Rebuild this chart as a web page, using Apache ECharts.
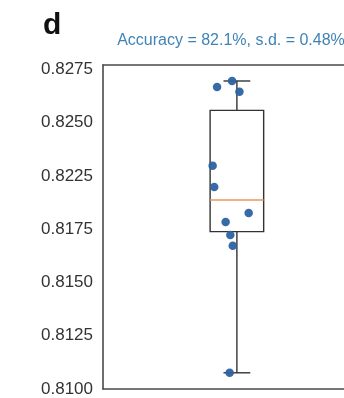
<!DOCTYPE html>
<html>
<head>
<meta charset="utf-8">
<script src="https://cdn.jsdelivr.net/npm/echarts@6/dist/echarts.min.js"></script>
<style>
  html, body { margin: 0; padding: 0; background: #fff; }
  #chart { width: 344px; height: 398px; }
</style>
</head>
<body>
<div id="chart"></div>
<script>
// Per-run accuracy of the ten repeated runs
const runAccuracy = [0.82695, 0.82667, 0.82644, 0.82297, 0.82198, 0.82076, 0.82034, 0.81973, 0.81922, 0.81326];
// Horizontal jitter of each run's dot around the box centre (box sits at x = 1)
const runJitter = [0.964, 0.852, 1.019, 0.819, 0.831, 1.088, 0.916, 0.951, 0.969, 0.946];
// Y-axis tick labels, bottom to top
const yTickLabels = ['0.8100', '0.8125', '0.8150', '0.8175', '0.8225', '0.8250', '0.8275'];
const panelLetter = 'd';
const summaryText = 'Accuracy = 82.1%, s.d. = 0.48%';

const yMin = 0.8125, yStep = 0.0025, yMax = 0.8277;
const boxCenter = 1, boxWidth = 0.4;

// Quartiles with linear interpolation, whiskers at the furthest run within 1.5 IQR
function quantile(asc, p) {
  const h = (asc.length - 1) * p;
  const lo = Math.floor(h), hi = Math.ceil(h);
  return asc[lo] + (h - lo) * (asc[hi] - asc[lo]);
}
const asc = runAccuracy.slice().sort((a, b) => a - b);
const q1 = quantile(asc, 0.25), med = quantile(asc, 0.5), q3 = quantile(asc, 0.75);
const iqr = q3 - q1;
const low = asc.find(v => v >= q1 - 1.5 * iqr);
const high = asc.slice().reverse().find(v => v <= q3 + 1.5 * iqr);

const FONT = '"Liberation Sans", Arial, sans-serif';
const frameLine = { show: true, onZero: false, lineStyle: { color: '#4a4a4a', width: 1.6 } };

const chart = echarts.init(document.getElementById('chart'), null, { renderer: 'canvas' });
chart.setOption({
  animation: false,
  backgroundColor: '#fff',
  grid: { left: 103, top: 65, right: 0, bottom: 9, show: false },
  graphic: [
    { type: 'text', left: 43, top: 11,
      style: { text: panelLetter, font: 'bold 30px ' + FONT, fill: '#111' } },
    { type: 'text', x: 231, y: 41,
      style: { text: summaryText, font: '16px ' + FONT, fill: '#3f83b6', align: 'center', verticalAlign: 'middle' } }
  ],
  xAxis: [
    {
      type: 'value', min: 0, max: 1.8, position: 'bottom',
      axisLine: frameLine, axisTick: { show: false },
      axisLabel: { show: false }, splitLine: { show: false }
    },
    {
      type: 'value', min: 0, max: 1.8, position: 'top',
      axisLine: frameLine, axisTick: { show: false },
      axisLabel: { show: false }, splitLine: { show: false }
    }
  ],
  yAxis: {
    type: 'value', min: yMin, max: yMax, interval: yStep,
    axisLine: frameLine, axisTick: { show: false }, splitLine: { show: false },
    axisLabel: {
      margin: 10, color: '#333', fontSize: 17, fontFamily: FONT,
      formatter: function (value) {
        const k = Math.round((value - yMin) / yStep);
        if (Math.abs(value - (yMin + k * yStep)) > 1e-7) return '';
        return yTickLabels[k] || '';
      }
    }
  },
  series: [
    {
      type: 'custom',
      data: [[boxCenter, low, q1, med, q3, high]],
      renderItem: function (params, api) {
        const x = api.value(0);
        const pLow = api.coord([x, api.value(1)]);
        const pQ1 = api.coord([x, api.value(2)]);
        const pMed = api.coord([x, api.value(3)]);
        const pQ3 = api.coord([x, api.value(4)]);
        const pHigh = api.coord([x, api.value(5)]);
        const half = api.size([boxWidth, 0])[0] / 2;
        const cap = half / 2;
        const dark = { stroke: '#333', lineWidth: 1.4, fill: null };
        return {
          type: 'group',
          children: [
            { type: 'line', shape: { x1: pQ3[0], y1: pQ3[1], x2: pHigh[0], y2: pHigh[1] }, style: dark },
            { type: 'line', shape: { x1: pQ1[0], y1: pQ1[1], x2: pLow[0], y2: pLow[1] }, style: dark },
            { type: 'line', shape: { x1: pHigh[0] - cap, y1: pHigh[1], x2: pHigh[0] + cap, y2: pHigh[1] }, style: dark },
            { type: 'line', shape: { x1: pLow[0] - cap, y1: pLow[1], x2: pLow[0] + cap, y2: pLow[1] }, style: dark },
            { type: 'rect', shape: { x: pQ3[0] - half, y: pQ3[1], width: half * 2, height: pQ1[1] - pQ3[1] }, style: dark },
            { type: 'line', shape: { x1: pMed[0] - half, y1: pMed[1], x2: pMed[0] + half, y2: pMed[1] },
              style: { stroke: '#e8975c', lineWidth: 1.4 } }
          ]
        };
      },
      z: 2
    },
    {
      type: 'scatter',
      data: runAccuracy.map((v, i) => [runJitter[i], v]),
      symbolSize: 8.5,
      itemStyle: { color: '#2d62a3', opacity: 0.95 },
      z: 3
    }
  ]
});
</script>
</body>
</html>
